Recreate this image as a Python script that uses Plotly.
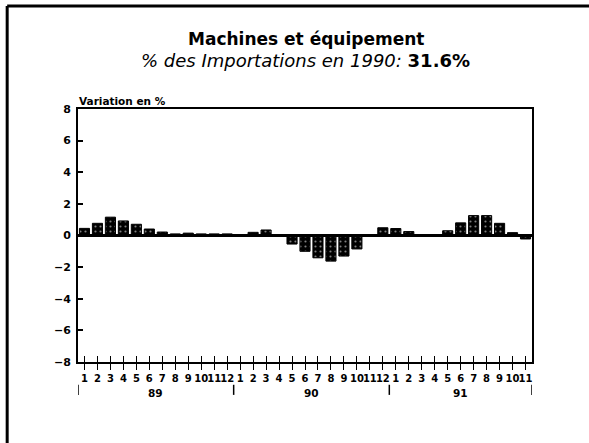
import plotly.graph_objects as go

# monthly change, Jan 89 .. Nov 91
months = list(range(1, 36))
month_labels = [str(m) for m in range(1, 13)] * 2 + [str(m) for m in range(1, 12)]
values = [0.45, 0.77, 1.16, 0.92, 0.71, 0.41, 0.22, 0.10, 0.15, 0.10, 0.10, 0.10,
          -0.05, 0.20, 0.35, 0.03, -0.54, -1.00, -1.41, -1.62, -1.30, -0.85, 0.05, 0.49,
          0.44, 0.25, 0.04, 0.05, 0.30, 0.80, 1.26, 1.26, 0.77, 0.18, -0.22]
years = ["89", "90", "91"]
year_pos = [6.5, 18.5, 30]
year_breaks = [0.5, 12.5, 24.5, 35.5]
y_ticks = [-8, -6, -4, -2, 0, 2, 4, 6, 8]

FONT = "DejaVu Sans"

fig = go.Figure()
fig.add_trace(go.Bar(
    x=months, y=values, width=0.78,
    marker=dict(color="black",
                line=dict(color="black", width=1),
                pattern=dict(shape=".", fgcolor="white", bgcolor="black",
                             size=5, solidity=0.15)),
    showlegend=False,
))

fig.update_layout(
    width=589, height=443,
    margin=dict(l=78, r=57, t=109, b=81),
    paper_bgcolor="white", plot_bgcolor="white",
    font=dict(family=FONT, color="black"),
    xaxis=dict(range=[0.5, 35.5], tickvals=months, ticktext=month_labels,
               tickangle=0,
               ticks="outside", ticklen=6, tickwidth=1.2, tickcolor="black",
               tickfont=dict(family=FONT, size=10, weight="bold"),
               showline=True, linecolor="black", linewidth=2, mirror=True,
               showgrid=False, zeroline=False, fixedrange=True),
    xaxis2=dict(range=[0.5, 35.5], overlaying="x", anchor="y", side="bottom",
                tickvals=months, showticklabels=False,
                ticks="inside", ticklen=6, tickwidth=1.2, tickcolor="black",
                showline=False, showgrid=False, zeroline=False),
    yaxis=dict(range=[-8, 8], tickvals=y_ticks,
               ticks="inside", ticklen=5, tickwidth=1.5, tickcolor="black",
               tickfont=dict(family=FONT, size=11, weight="bold"),
               ticklabelstandoff=3,
               showline=True, linecolor="black", linewidth=2, mirror=True,
               showgrid=False, zeroline=False, fixedrange=True),
)

# dummy trace so the inner tick axis gets drawn
fig.add_trace(go.Scatter(x=[1], y=[0], xaxis="x2", mode="markers",
                         marker=dict(opacity=0), showlegend=False, hoverinfo="skip"))

# zero line
fig.add_shape(type="line", xref="x", yref="y", x0=0.5, x1=35.5, y0=0, y1=0,
              line=dict(color="black", width=3), layer="above")

# year separators and labels
for b in year_breaks:
    fig.add_shape(type="line", xref="x", yref="paper", x0=b, x1=b,
                  y0=-0.09, y1=-0.13, line=dict(color="black", width=1.5))
for yl, xp in zip(years, year_pos):
    fig.add_annotation(x=xp, y=-0.122, xref="x", yref="paper", text="<b>%s</b>" % yl,
                       xanchor="center", yanchor="middle",
                       showarrow=False, font=dict(family=FONT, size=10.5))

# outer border (top and left only show in the frame)
fig.add_shape(type="line", xref="paper", yref="paper", x0=-0.156, x1=1.2,
              y0=1.407, y1=1.407, line=dict(color="black", width=3))
fig.add_shape(type="line", xref="paper", yref="paper", x0=-0.156, x1=-0.156,
              y0=1.407, y1=-0.4, line=dict(color="black", width=3))

# titles
fig.add_annotation(x=0.502, y=1.277, xref="paper", yref="paper",
                   xanchor="center", yanchor="middle",
                   text="<b>Machines et équipement</b>", showarrow=False,
                   font=dict(family=FONT, size=17))
fig.add_annotation(x=0.502, y=1.19, xref="paper", yref="paper",
                   xanchor="center", yanchor="middle",
                   text="<i>% des Importations en 1990: </i><b>31.6%</b>", showarrow=False,
                   font=dict(family=FONT, size=18))
fig.add_annotation(x=-0.003, y=1.032, xref="paper", yref="paper",
                   xanchor="left", yanchor="middle",
                   text="<b>Variation en %</b>", showarrow=False,
                   font=dict(family=FONT, size=10.5))

fig.write_html("out.html", config={"displayModeBar": False},
               post_script="document.body.style.margin='0';")
